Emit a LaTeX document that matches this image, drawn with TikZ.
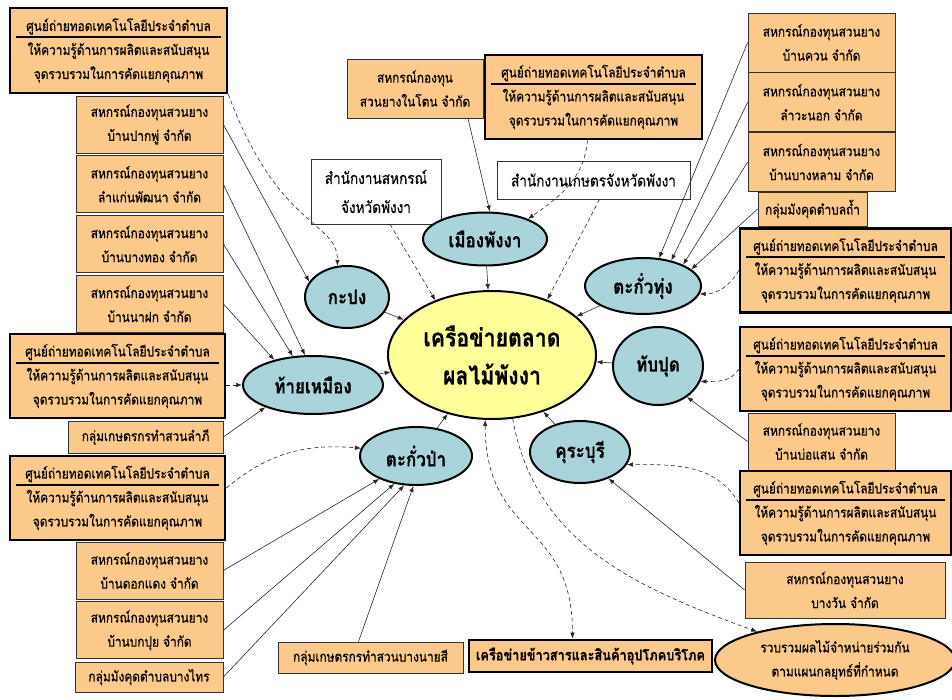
\documentclass[tikz,border=0pt]{standalone}
\usepackage{fontspec}
\usepackage{tikz}
\usetikzlibrary{arrows.meta,positioning,calc,shapes.geometric}
\newfontfamily\thai[Script=Thai,FakeStretch=0.85,FakeBold=0.5]{Loma}
\definecolor{boxorange}{RGB}{251,201,138}
\definecolor{areablue}{RGB}{170,212,220}
\definecolor{hubyellow}{RGB}{255,255,153}
\newcommand{\tambontext}{ศูนย์ถ่ายทอดเทคโนโลยีประจำตำบล\\ให้ความรู้ด้านการผลิตและสนับสนุน\\จุดรวบรวมในการคัดแยกคุณภาพ}
\tikzset{
  coop/.style={draw=black!80, fill=boxorange, line width=0.8pt, minimum width=147pt,
               minimum height=57pt, inner sep=1pt, align=center, font=\thai\fontsize{14}{24}\selectfont},
  centre/.style={coop, draw=black, line width=2.6pt, minimum width=215pt, minimum height=84pt},
  office/.style={coop, fill=white, font=\thai\fontsize{16}{29}\selectfont},
  area/.style={ellipse, draw=black, fill=areablue, line width=2pt, inner sep=0pt,
               font=\thai\bfseries\fontsize{20}{24}\selectfont},
  link/.style={-{Latex[length=6pt,width=4.5pt]}, line width=0.6pt, black!85},
  dlink/.style={link, dash pattern=on 4pt off 3pt},
  dboth/.style={dlink, {Latex[length=6pt,width=4.5pt]}-{Latex[length=6pt,width=4.5pt]}},
  midrule/.style={line width=2pt},
}

\begin{document}
\begin{tikzpicture}[x=1pt,y=1pt]
  \useasboundingbox (0,0) rectangle (952,-700);
  % left column
  \node[centre, minimum width=217pt, minimum height=85pt] (L1) at (118.5,-50.5) {\tambontext};
  \node[coop] (L2) at (149.5,-124.5) {สหกรณ์กองทุนสวนยาง\\บ้านปากพู่ จำกัด};
  \node[coop, below=2pt of L2] (L3) {สหกรณ์กองทุนสวนยาง\\ลำแก่นพัฒนา จำกัด};
  \node[coop, below=2pt of L3] (L4) {สหกรณ์กองทุนสวนยาง\\บ้านบางทอง จำกัด};
  \node[coop, below=2pt of L4] (L5) {สหกรณ์กองทุนสวนยาง\\บ้านนาฝก จำกัด};
  \node[centre] (L6) at (117.5,-376) {\tambontext};
  \node[coop, minimum width=155pt, minimum height=32pt] (L7) at (145.5,-437) {กลุ่มเกษตรกรทำสวนลำภี};
  \node[centre] (L8) at (117.5,-498) {\tambontext};
  \node[coop] (L9) at (149.5,-570.5) {สหกรณ์กองทุนสวนยาง\\บ้านดอกแดง จำกัด};
  \node[coop, below=2pt of L9] (L10) {สหกรณ์กองทุนสวนยาง\\บ้านบกปุย จำกัด};
  \node[coop, minimum width=148pt, minimum height=30pt] (L11) at (149,-677) {กลุ่มมังคุดตำบลบางไทร};

  % top
  \node[coop, minimum width=136pt, minimum height=59pt] (T1) at (415,-88.5) {สหกรณ์กองทุน\\สวนยางในโตน จำกัด};
  \node[centre, minimum width=217pt] (T2) at (593.5,-97) {\tambontext};
  \node[office, minimum width=130pt, minimum height=65pt] (W1) at (376,-191.5) {สำนักงานสหกรณ์\\จังหวัดพังงา};
  \node[office, minimum width=193pt, minimum height=38pt] (W2) at (593.5,-180) {สำนักงานเกษตรจังหวัดพังงา};

  % right column
  \node[coop, minimum height=59pt] (R1) at (821.5,-42.5) {สหกรณ์กองทุนสวนยาง\\บ้านควน จำกัด};
  \node[coop, minimum height=59pt, below=0pt of R1] (R2) {สหกรณ์กองทุนสวนยาง\\ลำวะนอก จำกัด};
  \node[coop, minimum height=59pt, below=0pt of R2] (R3) {สหกรณ์กองทุนสวนยาง\\บ้านบางหลาม จำกัด};
  \node[coop, minimum width=109pt, minimum height=34pt] (R4) at (812.5,-209) {กลุ่มมังคุดตำบลถ้ำ};
  \node[centre, minimum width=211pt] (R5) at (845.5,-270.5) {\tambontext};
  \node[centre, minimum width=211pt] (R6) at (845.5,-369) {\tambontext};
  \node[coop] (R7) at (821.5,-441.5) {สหกรณ์กองทุนสวนยาง\\บ้านบ่อแสน จำกัด};
  \node[centre, minimum width=211pt] (R8) at (845.5,-513) {\tambontext};
  \node[coop, minimum width=200pt, minimum height=56pt] (R9) at (845,-590) {สหกรณ์กองทุนสวนยาง\\บางวัน จำกัด};

  % bottom
  \node[coop, minimum width=185pt, minimum height=31pt] (bangnaisi) at (370.5,-657.5) {กลุ่มเกษตรกรทำสวนบางนายสี};
  \node[centre, minimum width=243pt, minimum height=32pt, font=\thai\bfseries\fontsize{15}{16}\selectfont]
       (khaosan) at (590.5,-656) {เครือข่ายข้าวสารและสินค้าอุปโภคบริโภค};
  \node[coop, ellipse, draw=black, line width=2pt, inner sep=0pt, minimum width=240pt, minimum height=72pt]
       (harvest) at (835,-660) {รวบรวมผลไม้จำหน่ายร่วมกัน\\ตามแผนกลยุทธ์ที่กำหนด};

  % districts and hub
  \node[area, fill=hubyellow, minimum width=208pt, minimum height=128pt,
        font=\thai\bfseries\fontsize{25}{38}\selectfont, align=center] (hub) at (492,-355) {เครือข่ายตลาด\\ผลไม้พังงา};
  \node[area, minimum width=124pt, minimum height=53pt] (muang) at (485,-239) {เมืองพังงา};
  \node[area, minimum width=84pt, minimum height=62pt] (kapong) at (347,-297) {กะปง};
  \node[area, minimum width=140pt, minimum height=58pt] (taimueang) at (313,-385) {ท้ายเหมือง};
  \node[area, minimum width=112pt, minimum height=58pt] (takuapa) at (416,-456) {ตะกั่วป่า};
  \node[area, minimum width=100pt, minimum height=62pt] (khura) at (580,-452) {คุระบุรี};
  \node[area, minimum width=116pt, minimum height=56pt] (takuathung) at (643,-286) {ตะกั่วทุ่ง};
  \node[area, minimum width=90pt, minimum height=78pt] (thapput) at (658,-366) {ทับปุด};

  % rule under first line of the tambon boxes
  \foreach \n in {L1,L6,L8,T2,R5,R6,R8}
    \draw[midrule] ([xshift=7pt,yshift=-30pt]\n.north west) -- ([xshift=-7pt,yshift=-30pt]\n.north east);

  % connectors, left
  \draw[link] (L2.east) -- (kapong.158);
  \draw[dlink] (L1.south east) .. controls +(50,-135) and +(0,45) .. (kapong.107);
  \draw[link] (L3.east) -- (taimueang.105);
  \draw[link] (L4.east) -- (taimueang.125);
  \draw[link] (L5.east) -- (taimueang.147);
  \draw[dlink] (L6.east |- taimueang.west) -- (taimueang.west);
  \draw[link] (L7.east) -- (taimueang.205);
  \draw[dlink] ([yshift=10pt]L8.east) to[out=40,in=175] (takuapa.172);
  \draw[link] (L9.east) -- (takuapa.212);
  \draw[link] (L10.east) -- (takuapa.232);
  \draw[link] (L11.east) -- (takuapa.248);
  \draw[link] ([xshift=-12pt]bangnaisi.north) -- (takuapa.265);

  % connectors, top
  \draw[link] ([xshift=53pt]T1.south) -- (muang.80);
  \draw[dlink] ([xshift=-6pt]T2.south) to[out=-95,in=35] (muang.25);
  \draw[dlink] ([xshift=14pt]W1.south) -- (hub.136);
  \draw[dlink] ([xshift=6pt]W2.south) -- (hub.45);

  % districts into hub
  \foreach \d in {muang,kapong,taimueang,takuapa,khura,takuathung,thapput}
    \draw[link] (\d) -- (hub);

  % connectors, right
  \draw[link] (R1.west) -- (takuathung.60);
  \draw[link] (R2.west) -- (takuathung.42);
  \draw[link] (R3.west) -- (takuathung.28);
  \draw[link] (R4.west) -- (takuathung.19);
  \draw[dlink] (R5.west) to[out=-120,in=0] (takuathung.-8);
  \draw[dlink] (R6.west) to[out=-120,in=0] (thapput.-20);
  \draw[link] (R7.west) -- (thapput.-47);
  \draw[dlink] ([yshift=10pt]R8.west) to[out=120,in=0] (khura.-15);
  \draw[link] (R9.west) -- (khura.-43);

  % connectors, bottom
  \draw[dboth] (hub.-96) to[out=-90,in=90,looseness=1.3] ([xshift=-18pt]khaosan.north);
  \draw[dlink] (hub.-72) to[out=-80,in=160] (harvest.160);
\end{tikzpicture}
\end{document}
